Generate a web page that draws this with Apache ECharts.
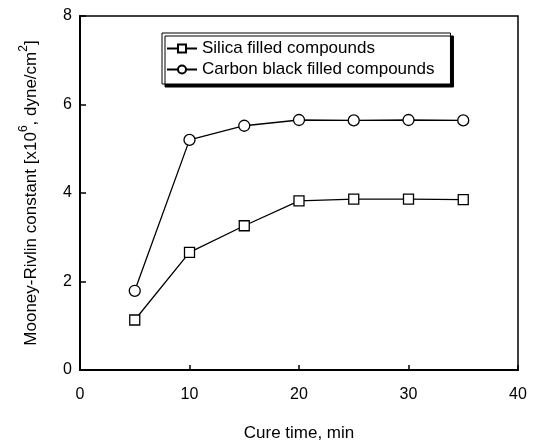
<!DOCTYPE html>
<html style="height: 100%">
<head>
    <meta charset="utf-8">
    <title>Mooney-Rivlin constant vs cure time</title>
    <script src="https://cdn.jsdelivr.net/npm/echarts@6/dist/echarts.min.js"></script>
    <style>
        html, body { margin: 0; padding: 0; background: #fff; }
        #container { width: 540px; height: 446px; }
    </style>
</head>
<body>
<div id="container"></div>
<script>
    // values
    var cureTime = [5, 10, 15, 20, 25, 30, 35];
    var silica = [1.13, 2.66, 3.26, 3.82, 3.86, 3.86, 3.85];
    var carbonBlack = [1.79, 5.20, 5.52, 5.65, 5.64, 5.65, 5.64];
    var xTicks = [0, 10, 20, 30, 40];
    var yTicks = [0, 2, 4, 6, 8];

    function pairs(xs, ys) {
        var out = [];
        for (var i = 0; i < xs.length; i++) {
            out.push([xs[i], ys[i]]);
        }
        return out;
    }

    var font = '"Liberation Sans", Arial, sans-serif';
    var chart = echarts.init(document.getElementById('container'));

    var option = {
        animation: false,
        backgroundColor: '#fff',
        textStyle: { fontFamily: font, color: '#000' },
        grid: {
            left: 80, top: 16, width: 438, height: 354,
            outerBoundsMode: 'none',
            show: true,
            borderColor: '#000',
            borderWidth: 1.5
        },
        legend: {
            left: 162, top: 33,
            orient: 'vertical',
            padding: [7, 16, 6, 4],
            itemGap: 4,
            itemWidth: 30,
            itemHeight: 10,
            backgroundColor: '#fff',
            borderColor: '#000',
            borderWidth: 1,
            shadowColor: '#000',
            shadowBlur: 0,
            shadowOffsetX: 3,
            shadowOffsetY: 3,
            textStyle: { fontFamily: font, fontSize: 17, color: '#000' },
            data: ['Silica filled compounds', 'Carbon black filled compounds']
        },
        xAxis: {
            type: 'value',
            min: xTicks[0],
            max: xTicks[xTicks.length - 1],
            interval: 10,
            name: 'Cure time, min',
            nameLocation: 'middle',
            nameGap: 55,
            nameTextStyle: { fontFamily: font, fontSize: 17, color: '#000' },
            axisLine: { lineStyle: { color: '#000', width: 2 } },
            axisTick: { inside: true, length: 5, lineStyle: { color: '#000', width: 1.5 } },
            axisLabel: { margin: 17, fontSize: 16, color: '#000', fontFamily: font },
            splitLine: { show: false }
        },
        yAxis: {
            type: 'value',
            min: yTicks[0],
            max: yTicks[yTicks.length - 1],
            interval: 2,
            name: '{t|Mooney-Rivlin constant [x10}{s|6}{t|, dyne/cm}{s|2}{t|]}',
            nameLocation: 'middle',
            nameGap: 40,
            nameTextStyle: {
                fontFamily: font,
                fontSize: 17,
                color: '#000',
                rich: {
                    t: { fontFamily: font, fontSize: 17, color: '#000', lineHeight: 22, verticalAlign: 'bottom' },
                    s: { fontFamily: font, fontSize: 12, color: '#000', lineHeight: 22, verticalAlign: 'top' }
                }
            },
            axisLine: { lineStyle: { color: '#000', width: 2 } },
            axisTick: { inside: true, length: 6, lineStyle: { color: '#000', width: 1.5 } },
            axisLabel: { margin: 8, fontSize: 16, color: '#000', fontFamily: font },
            splitLine: { show: false }
        },
        series: [
            {
                name: 'Silica filled compounds',
                type: 'line',
                data: pairs(cureTime, silica),
                symbol: 'rect',
                symbolSize: 10,
                itemStyle: { color: '#fff', borderColor: '#000', borderWidth: 1.3 },
                lineStyle: { color: '#000', width: 1.3 }
            },
            {
                name: 'Carbon black filled compounds',
                type: 'line',
                data: pairs(cureTime, carbonBlack),
                symbol: 'circle',
                symbolSize: 11,
                itemStyle: { color: '#fff', borderColor: '#000', borderWidth: 1.3 },
                lineStyle: { color: '#000', width: 1.3 }
            }
        ]
    };

    chart.setOption(option);
</script>
</body>
</html>
